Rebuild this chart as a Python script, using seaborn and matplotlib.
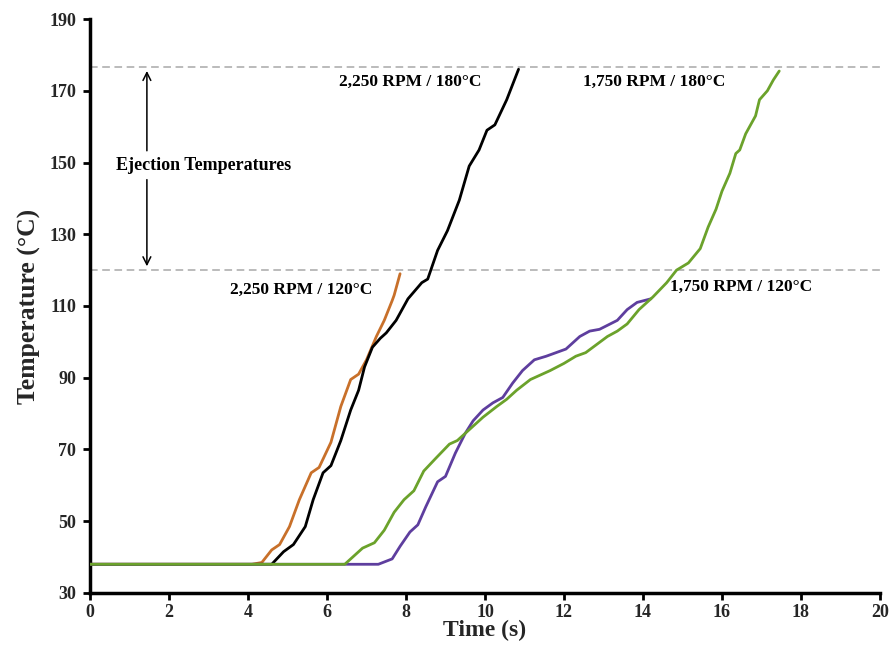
import numpy as np
import pandas as pd
import matplotlib
matplotlib.use("Agg")
import matplotlib.pyplot as plt
import seaborn as sns

# Time (s) / temperature (°C) readings for each rotational speed and ejection target
t_2250_120 = [0, 4.1, 4.35, 4.6, 4.8, 5.05, 5.3, 5.6, 5.8, 6.1, 6.35, 6.6, 6.8, 7.0,
              7.25, 7.45, 7.65, 7.7, 7.85]
T_2250_120 = [38, 38, 38.5, 42, 43.5, 48.5, 56, 63.5, 65, 72, 82, 89.5, 91, 95,
              101.5, 106, 111.5, 113, 119]

t_2250_180 = [0, 4.6, 4.9, 5.15, 5.45, 5.65, 5.9, 6.1, 6.35, 6.6, 6.8, 6.95, 7.15, 7.35,
              7.5, 7.75, 8.05, 8.4, 8.55, 8.8, 9.05, 9.35, 9.6, 9.85, 10.05, 10.25,
              10.55, 10.85]
T_2250_180 = [38, 38, 41.5, 43.5, 48.5, 56, 63.5, 65.5, 72.5, 81, 86.5, 93, 98.5, 101,
              102.5, 106, 112, 116.5, 117.5, 125.5, 131, 139.5, 149, 153.5, 159, 160.5,
              167.5, 176]

t_1750_120 = [0, 7.3, 7.65, 7.85, 8.1, 8.3, 8.5, 8.8, 9.0, 9.25, 9.5, 9.7, 9.95, 10.2,
              10.45, 10.7, 10.95, 11.25, 11.55, 12.05, 12.4, 12.65, 12.9, 13.35, 13.6,
              13.85, 14.2]
T_1750_120 = [38, 38, 39.5, 43, 47, 49, 54, 61, 62.5, 69, 74.5, 78, 81, 83,
              84.5, 88.5, 92, 95, 96, 98, 101.5, 103, 103.5, 106, 109,
              111, 112]

t_1750_180 = [0, 6.45, 6.9, 7.2, 7.45, 7.7, 7.95, 8.2, 8.45, 8.75, 9.1, 9.3, 9.6, 9.95,
              10.3, 10.55, 10.8, 11.15, 11.65, 12.0, 12.3, 12.55, 13.1, 13.35, 13.6,
              13.9, 14.25, 14.6, 14.85, 15.15, 15.45, 15.65, 15.85, 16.0, 16.2, 16.35,
              16.45, 16.6, 16.85, 16.95, 17.15, 17.3, 17.45]
T_1750_180 = [38, 38, 42.5, 44, 47.5, 52.5, 56, 58.5, 64, 67.5, 71.5, 72.5, 75.5, 79,
              82, 84, 86.5, 89.5, 92, 94, 96, 97, 101.5, 103, 105,
              109, 112.5, 116.5, 120, 122, 126, 132, 137, 142, 147, 152.5,
              153.5, 158, 163, 167.5, 170, 173, 175.5]

series_names = ["2,250 RPM / 120°C", "2,250 RPM / 180°C",
                "1,750 RPM / 120°C", "1,750 RPM / 180°C"]
series_colors = ["#C8702A", "#000000", "#5E3E9E", "#6BA22B"]

# Ejection temperature limits
eject_levels = [176.5, 120]
x_ticks = list(range(0, 21, 2))
y_ticks = list(range(30, 191, 20))

frames = []
for name, t, T in zip(series_names,
                      [t_2250_120, t_2250_180, t_1750_120, t_1750_180],
                      [T_2250_120, T_2250_180, T_1750_120, T_1750_180]):
    frames.append(pd.DataFrame({"Time": t, "Temperature": T, "Condition": name}))
df = pd.concat(frames, ignore_index=True)

sns.set_theme(style="white")
plt.rcParams["font.family"] = ["Liberation Serif", "DejaVu Serif"]
plt.rcParams["font.weight"] = "bold"

fig = plt.figure(figsize=(8.93, 6.47), dpi=100)
ax = fig.add_axes([0.1008, 0.0835, 0.8846, 0.8871])

# Ejection temperature reference lines
for lvl in eject_levels:
    ax.axhline(lvl, color="#A8A8A8", lw=1.1, ls=(0, (5, 3)), zorder=1)

sns.lineplot(data=df, x="Time", y="Temperature", hue="Condition",
             hue_order=series_names, palette=series_colors,
             estimator=None, sort=False, lw=2.0, legend=False, ax=ax, zorder=3)

ax.set_xlim(0, 20)
ax.set_ylim(30, 190)
ax.set_xticks(x_ticks)
ax.set_yticks(y_ticks)
ax.tick_params(axis="x", which="major", direction="out", length=5, width=2,
               color="black", labelsize=13, pad=3, bottom=True)
ax.tick_params(axis="y", which="major", direction="out", length=5, width=2,
               color="black", labelsize=13, pad=5, left=True)
for lab in ax.get_xticklabels() + ax.get_yticklabels():
    lab.set_fontweight("bold")

for side in ["top", "right"]:
    ax.spines[side].set_visible(False)
for side in ["left", "bottom"]:
    ax.spines[side].set_color("black")
    ax.spines[side].set_linewidth(2.5)

ax.set_xlabel("Time (s)", fontsize=17, fontweight="bold")
ax.xaxis.set_label_coords(0.5, -0.046)
ax.set_ylabel("Temperature (°C)", fontsize=18.5, fontweight="bold", labelpad=6)

# Curve labels
lab_kw = dict(fontsize=12.5, fontweight="bold", color="black", va="center")
ax.text(9.92, 172.4, series_names[1], ha="right", **lab_kw)
ax.text(16.08, 172.4, series_names[3], ha="right", **lab_kw)
ax.text(7.16, 114.5, series_names[0], ha="right", **lab_kw)
ax.text(14.68, 115.3, series_names[2], ha="left", **lab_kw)

# Ejection temperature range arrow
arrow_x = 1.44
ax.text(2.87, 149.3, "Ejection Temperatures", ha="center", va="center",
        fontsize=13, fontweight="bold", color="black")
ax.annotate("", xy=(arrow_x, 176.3), xytext=(arrow_x, 152.5),
            arrowprops=dict(arrowstyle="->", color="black", lw=1.1,
                            mutation_scale=14))
ax.annotate("", xy=(arrow_x, 120.3), xytext=(arrow_x, 146.0),
            arrowprops=dict(arrowstyle="->", color="black", lw=1.1,
                            mutation_scale=14))

fig.savefig("out.png", dpi=100)
